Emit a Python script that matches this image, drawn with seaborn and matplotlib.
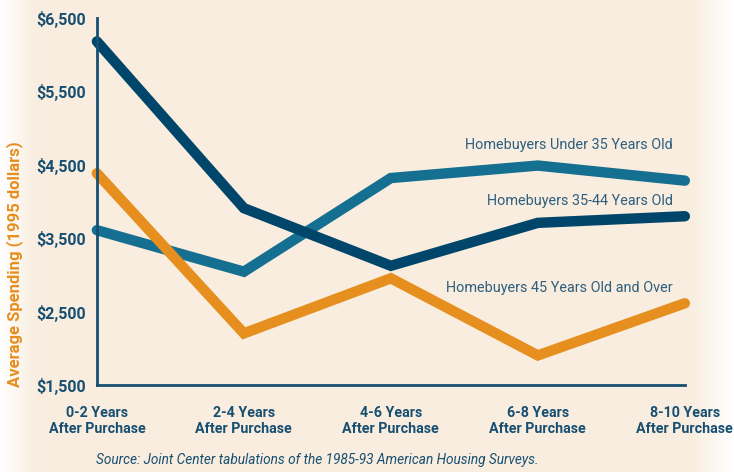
import numpy as np
import pandas as pd
import matplotlib.pyplot as plt
import seaborn as sns
from matplotlib.ticker import FixedLocator
from matplotlib.colors import LinearSegmentedColormap

# data
periods = ["0-2 Years\nAfter Purchase", "2-4 Years\nAfter Purchase", "4-6 Years\nAfter Purchase",
           "6-8 Years\nAfter Purchase", "8-10 Years\nAfter Purchase"]
under_35 = [3610, 3045, 4320, 4490, 4285]
age_35_44 = [6180, 3910, 3125, 3710, 3800]
over_45 = [4385, 2205, 2955, 1905, 2615]

groups = ["Homebuyers Under 35 Years Old", "Homebuyers 35-44 Years Old",
          "Homebuyers 45 Years Old and Over"]
colors = ["#146F90", "#00466B", "#E68E1E"]
y_ticks = [1500, 2500, 3500, 4500, 5500, 6500]

BG = "#F8EDDE"
TEXT = "#174F72"

df = pd.DataFrame({
    "period": list(range(len(periods))) * 3,
    "spending": under_35 + age_35_44 + over_45,
    "group": [g for g in groups for _ in periods],
})

sns.set_theme(style="white")
plt.rcParams["font.family"] = ["Roboto", "DejaVu Sans"]

fig = plt.figure(figsize=(7.34, 4.72), dpi=100, facecolor=BG)

# soft white fade at the left and right edges of the page
bg_ax = fig.add_axes([0, 0, 1, 1], zorder=-1)
xs = np.linspace(0, 1, 734)
fade = np.clip(np.minimum(xs / 0.05, (1 - xs) / 0.06), 0, 1)
bg_cmap = LinearSegmentedColormap.from_list("bg", ["#FFFFFF", BG])
bg_ax.imshow(fade[np.newaxis, :], aspect="auto", cmap=bg_cmap, vmin=0, vmax=1,
             extent=[0, 1, 0, 1])
bg_ax.axis("off")

ax = fig.add_axes([0.132, 0.184, 0.801, 0.778])
ax.patch.set_alpha(0)

sns.lineplot(data=df, x="period", y="spending", hue="group", hue_order=groups,
             palette=colors, linewidth=7.5, legend=False, ax=ax)
for line in ax.lines:
    line.set_clip_on(False)
    line.set_solid_capstyle("round")
    line.set_solid_joinstyle("miter")

ax.set_xlim(0, 4)
ax.set_ylim(1500, 6500)

for s in ["top", "right"]:
    ax.spines[s].set_visible(False)
for s in ["left", "bottom"]:
    ax.spines[s].set_color(TEXT)
    ax.spines[s].set_linewidth(2)

ax.set_yticks(y_ticks)
ax.set_yticklabels([f"${v:,}" for v in y_ticks])
ax.tick_params(axis="y", direction="in", length=10, width=2, color=TEXT,
               labelsize=11.5, labelcolor=TEXT, pad=8)
for lab in ax.get_yticklabels():
    lab.set_fontweight("bold")

ax.set_xticks(range(len(periods)))
ax.set_xticklabels(periods, fontweight="bold", linespacing=1.2)
ax.tick_params(axis="x", length=0, labelsize=10.3, labelcolor=TEXT, pad=15)
ax.xaxis.set_minor_locator(FixedLocator([4]))
ax.tick_params(axis="x", which="minor", direction="in", length=5, width=2, color=TEXT)

ax.set_xlabel("")
ax.set_ylabel("Average Spending (1995 dollars)", color="#E68E1E", fontsize=12,
              fontweight="bold")
ax.yaxis.set_label_coords(-0.125, 0.33)

# line labels
label_y = [4770, 4005, 2820]
for name, yv in zip(groups, label_y):
    ax.text(3.92, yv, name, ha="right", va="center", fontsize=10.4, color="#2D5E7E")

fig.text(0.131, 0.01, "Source: Joint Center tabulations of the 1985-93 American Housing Surveys.",
         fontsize=9.8, style="italic", color=TEXT, ha="left", va="bottom")

fig.savefig("out.png", dpi=100, facecolor=BG)
